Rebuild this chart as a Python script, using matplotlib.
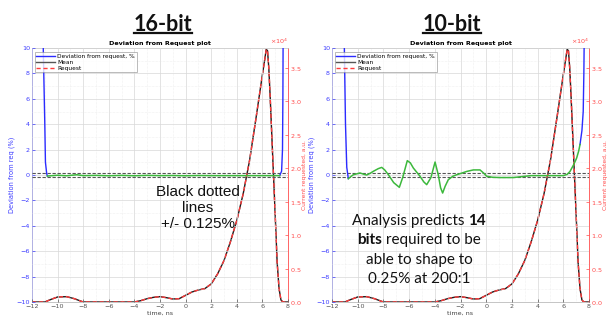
import numpy as np
import matplotlib
matplotlib.use("Agg")
import matplotlib.pyplot as plt
from matplotlib.lines import Line2D
from matplotlib.ticker import ScalarFormatter, AutoMinorLocator
from matplotlib.offsetbox import TextArea, HPacker, VPacker, AnnotationBbox

# ---------------- data ----------------
panel_titles = ["16-bit", "10-bit"]

# request / measured (right axis, arbitrary units)
req_t = [-12, -11, -10.5, -10, -9.3, -8.7, -8, -7, -6, -5, -4, -3.5, -3, -2.5, -2, -1.5,
         -1, -0.5, 0, 0.5, 1, 1.5, 2, 2.5, 3, 3.5, 4, 4.5, 5, 5.5, 6, 6.2, 6.3, 6.4, 6.5, 6.6,
         6.8, 7.0, 7.15, 7.3, 7.45, 7.6, 8]
req_v = [0, 0, 400, 750, 800, 500, 0, 0, 0, 0, 0, 200, 500, 700, 800, 650,
         450, 500, 1000, 1500, 1800, 2000, 2700, 4200, 6200, 9000, 12200, 16200, 21200, 27500, 34000, 36500,
         37800, 37600, 35000, 31000,
         22000, 13000, 6000, 2000, 300, 0, 0]

# deviation, 16-bit (left axis, %)
dev16_blue_a_t = [-11.2, -11.12, -11.0, -10.95, -10.85, -10.8]
dev16_blue_a_v = [11, 10, 4, 1, 0.1, -0.08]
dev16_green_t = [-10.8, -10, -9.3, -8.5, -8, -7, -6, -5, -4, -3, -2, -1, 0, 1, 2, 3, 4, 5, 6, 7, 7.35]
dev16_green_v = [-0.08, -0.02, -0.06, 0.02, -0.05, -0.03, -0.06, -0.03, -0.06, -0.03, -0.05, -0.04,
                 -0.06, -0.04, -0.05, -0.05, -0.05, -0.05, -0.05, -0.05, -0.05]
dev16_blue_b_t = [7.35, 7.5, 7.57, 7.6, 7.62]
dev16_blue_b_v = [-0.05, 0.3, 2, 6, 11]

# deviation, 10-bit (left axis, %)
dev10_blue_a_t = [-11.1, -11.04, -10.95, -10.85, -10.73]
dev10_blue_a_v = [11, 10, 4, 0.6, -0.29]
dev10_green_t = [-10.73, -10.5, -10.34, -9.82, -9.5, -9.3, -9.0, -8.8, -8.4, -8.13, -7.9, -7.61,
                 -7.2, -6.76, -6.5, -6.14, -5.9, -5.67, -5.15, -4.85, -4.63, -4.3,
                 -3.98, -3.73, -3.55, -3.39, -3.2, -2.95, -2.6, -2.3, -1.9, -1.52, -1.0, -0.48, -0.2, 0.04,
                 0.5, 1.07, 2.1, 3.5, 5.0, 6.0, 6.3, 6.52, 6.8, 7.04, 7.2, 7.3]
dev10_green_v = [-0.29, -0.1, 0.02, 0.16, 0.05, 0.0, 0.15, 0.28, 0.5, 0.6, 0.4, 0.02,
                 -0.6, -0.97, -0.2, 1.13, 0.95, 0.55, -0.1, -0.55, -0.76, -0.2,
                 1.02, 0.02, -1.0, -1.42, -0.9, -0.37, -0.1, 0.02, 0.15, 0.28, 0.4, 0.4, 0.15, -0.1,
                 -0.18, -0.2, -0.2, -0.05, -0.05, -0.05, 0.05, 0.28, 0.8, 1.34, 1.9, 2.4]
dev10_blue_b_t = [7.3, 7.45, 7.55, 7.6, 7.63]
dev10_blue_b_v = [2.4, 3.5, 5, 8, 11]

tolerance = 0.125
x_ticks = [-12, -10, -8, -6, -4, -2, 0, 2, 4, 6, 8]

panels = [
    dict(blue_a=(dev16_blue_a_t, dev16_blue_a_v), green=(dev16_green_t, dev16_green_v),
         blue_b=(dev16_blue_b_t, dev16_blue_b_v)),
    dict(blue_a=(dev10_blue_a_t, dev10_blue_a_v), green=(dev10_green_t, dev10_green_v),
         blue_b=(dev10_blue_b_t, dev10_blue_b_v)),
]

# ---------------- style ----------------
BLUE = "#2b2bff"
GREEN = "#3cb83c"
RED = "#ff3b3b"
BLACK = "#1e1e1e"
TICKBLUE = "#3b3bff"
TICKRED = "#ff4b4b"
fs_small = 4.6

fig = plt.figure(figsize=(6.07, 3.21), dpi=100)
fig.patch.set_facecolor("white")

axes_rects = [[32/607, 1-302/321, 256/607, 254/321],
              [332/607, 1-302/321, 257/607, 254/321]]
title_x = [163/607, 452/607]

for i, (rect, p) in enumerate(zip(axes_rects, panels)):
    ax = fig.add_axes(rect)
    ax2 = ax.twinx()
    ax.set_zorder(ax2.get_zorder() + 1)
    ax.patch.set_visible(False)

    # right axis: request and mean
    ax2.plot(req_t, req_v, color=BLACK, lw=1.0, zorder=2)
    ax2.plot(req_t, req_v, color=RED, lw=1.0, ls=(0, (3, 2)), zorder=3)
    ax2.set_ylim(0, 38000)
    ax2.set_yticks(np.arange(0, 38000, 5000))
    fmt = ScalarFormatter(useMathText=True)
    fmt.set_powerlimits((0, 0))
    ax2.yaxis.set_major_formatter(fmt)
    ax2.yaxis.get_offset_text().set_fontsize(fs_small)
    ax2.yaxis.get_offset_text().set_color(TICKRED)
    ax2.tick_params(axis="y", colors=TICKRED, labelsize=fs_small, direction="in", length=2, width=0.5, pad=1.5)
    ax2.set_ylabel("Current requested, a.u.", color=TICKRED, fontsize=fs_small - 0.3, labelpad=0.5)
    ax2.spines["right"].set_color(TICKRED)
    ax2.spines["left"].set_color(TICKBLUE)
    for s in ["top", "bottom"]:
        ax2.spines[s].set_color("#bbbbbb")
    for s in ax2.spines.values():
        s.set_linewidth(0.6)

    # left axis: deviation
    ax.axhline(tolerance, color="#555555", lw=0.8, ls=(0, (3, 1.5)), zorder=4)
    ax.axhline(-tolerance, color="#555555", lw=0.8, ls=(0, (3, 1.5)), zorder=4)
    ax.plot(*p["blue_a"], color=BLUE, lw=1.0, zorder=5)
    ax.plot(*p["blue_b"], color=BLUE, lw=1.0, zorder=5)
    ax.plot(*p["green"], color=GREEN, lw=1.1, zorder=5)

    ax.set_xlim(-12, 8)
    ax.set_ylim(-10, 10)
    ax.set_xticks(x_ticks)
    ax.set_yticks(np.arange(-10, 11, 2))
    ax.xaxis.set_minor_locator(AutoMinorLocator(2))
    ax.yaxis.set_minor_locator(AutoMinorLocator(2))
    ax.grid(True, which="major", color="#d8d8d8", lw=0.5)
    ax.grid(True, which="minor", color="#e4e4e4", lw=0.4, ls=(0, (1, 1.5)))
    ax.tick_params(axis="y", colors=TICKBLUE, labelsize=fs_small, direction="in", length=2, width=0.5, pad=1.5)
    ax.tick_params(axis="x", colors="#555555", labelsize=fs_small, direction="in", length=2, width=0.5, pad=1.5)
    ax.tick_params(which="minor", length=0)
    ax.set_ylabel("Deviation from req (%)", color=TICKBLUE, fontsize=fs_small + 0.2, labelpad=1)
    ax.set_xlabel("time, ns", color="#444444", fontsize=fs_small, labelpad=1)
    ax.set_title("Deviation from Request plot", fontsize=fs_small, fontweight="bold", pad=2)
    for s in ax.spines.values():
        s.set_visible(False)

    handles = [Line2D([], [], color=BLUE, lw=1.0),
               Line2D([], [], color="#555555", lw=1.0),
               Line2D([], [], color=RED, lw=1.0, ls=(0, (3, 2)))]
    leg = ax.legend(handles, ["Deviation from request, %", "Mean", "Request"], loc="upper left",
                    fontsize=fs_small - 0.4, frameon=True, fancybox=False, handlelength=3.2,
                    borderpad=0.3, labelspacing=0.15, handletextpad=0.4,
                    bbox_to_anchor=(0.01, 0.985), borderaxespad=0)
    leg.get_frame().set_edgecolor("#888888")
    leg.get_frame().set_linewidth(0.5)

    # panel heading
    t = fig.text(title_x[i], 1 - 31/321, panel_titles[i], ha="center", va="baseline",
                 fontsize=15.5, fontweight="bold", family="Lato", color="#111111")
    fig.canvas.draw()
    bb = t.get_window_extent()
    inv = fig.transFigure.inverted()
    (x0, y0), (x1, y1) = inv.transform([(bb.x0, bb.y0), (bb.x1, bb.y1)])
    fig.add_artist(Line2D([x0, x1], [1 - 33/321, 1 - 33/321], color="#111111", lw=1.6,
                          transform=fig.transFigure))

# annotation left
fig.text(198/607, 1 - 208/321, "Black dotted\nlines\n+/- 0.125%", ha="center", va="center",
         fontsize=11, family="Liberation Sans", color="#111111", linespacing=1.15)

# annotation right (mixed bold)
lines_spec = [[("Analysis predicts ", "normal"), ("14", "bold")],
              [("bits", "bold"), (" required to be", "normal")],
              [("able to shape to", "normal")],
              [("0.25% at 200:1", "normal")]]
rows = []
for spec in lines_spec:
    parts = [TextArea(txt, textprops=dict(fontsize=11, fontweight=w, family="Lato", color="#111111"))
             for txt, w in spec]
    rows.append(HPacker(children=parts, align="baseline", pad=0, sep=0))
vp = VPacker(children=rows, align="center", pad=0, sep=4)
ab = AnnotationBbox(vp, (419/607, 1 - 250/321), xycoords="figure fraction", frameon=False,
                    box_alignment=(0.5, 0.5))
fig.add_artist(ab)

fig.savefig("out.png", dpi=100, facecolor="white")
